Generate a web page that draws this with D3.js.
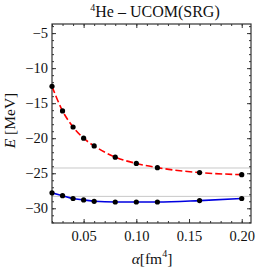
<!DOCTYPE html>
<html>
<head>
<meta charset="utf-8">
<script src="https://cdn.jsdelivr.net/npm/d3@7"></script>
<style>
body { margin: 0; background: #fff; }
text { font-family: "Liberation Serif", "DejaVu Serif", serif; }
</style>
</head>
<body>
<div id="chart"></div>
<script>
// data
var alphas = [0.02, 0.03, 0.04, 0.05, 0.06, 0.08, 0.10, 0.12, 0.16, 0.20];
var srgE = [-12.6, -16.1, -18.4, -20.0, -21.1, -22.7, -23.6, -24.2, -24.9, -25.2];
var ucomE = [-27.8, -28.2, -28.6, -28.8, -29.0, -29.1, -29.1, -29.1, -28.9, -28.6];
var refLines = [-24.25, -28.3];
var xTicks = [0.05, 0.10, 0.15, 0.20];
var yTicks = [-5, -10, -15, -20, -25, -30];

var svgWidth = 258;
var svgHeight = 268;
var margin = { top: 24, right: 7, bottom: 45, left: 52 };
var width = svgWidth - margin.left - margin.right;
var height = svgHeight - margin.top - margin.bottom;

var svg = d3.select("#chart")
    .append("svg")
    .attr("width", svgWidth)
    .attr("height", svgHeight);

var chartGroup = svg.append("g")
    .attr("transform", `translate(${margin.left}, ${margin.top})`);

var xScale = d3.scaleLinear().domain([0.02, 0.2088]).range([0, width]);
var yScale = d3.scaleLinear().domain([-32.1, -3.7]).range([height, 0]);

// gray reference lines
chartGroup.selectAll(".ref")
    .data(refLines)
    .enter()
    .append("line")
    .attr("x1", 0)
    .attr("x2", width)
    .attr("y1", d => yScale(d))
    .attr("y2", d => yScale(d))
    .attr("stroke", "#c8c8c8")
    .attr("stroke-width", 1);

// axes with inward ticks
function styleAxis(g) {
    g.select(".domain").remove();
    g.selectAll("line").attr("stroke", "#333");
    g.selectAll("text")
        .attr("font-family", "'Liberation Serif', serif")
        .attr("font-size", 14.5)
        .attr("fill", "#111");
}
var minorX = d3.range(0.02, 0.2085, 0.01);
var minorY = d3.range(-32, -3.5, 1);

chartGroup.append("g")
    .attr("transform", `translate(0, ${height})`)
    .call(d3.axisBottom(xScale).tickValues(minorX).tickSize(-2).tickFormat(""))
    .call(styleAxis);
chartGroup.append("g")
    .attr("transform", `translate(0, ${height})`)
    .call(d3.axisBottom(xScale).tickValues(xTicks).tickSize(-4).tickPadding(8).tickFormat(d3.format(".2f")))
    .call(styleAxis);
chartGroup.append("g")
    .call(d3.axisTop(xScale).tickValues(minorX).tickSize(-2).tickFormat(""))
    .call(styleAxis);
chartGroup.append("g")
    .call(d3.axisTop(xScale).tickValues(xTicks).tickSize(-4).tickFormat(""))
    .call(styleAxis);

chartGroup.append("g")
    .call(d3.axisLeft(yScale).tickValues(minorY).tickSize(-2).tickFormat(""))
    .call(styleAxis);
chartGroup.append("g")
    .call(d3.axisLeft(yScale).tickValues(yTicks).tickSize(-4).tickPadding(4).tickFormat(d => "\u2212" + Math.abs(d)))
    .call(styleAxis);
chartGroup.append("g")
    .attr("transform", `translate(${width}, 0)`)
    .call(d3.axisRight(yScale).tickValues(minorY).tickSize(-2).tickFormat(""))
    .call(styleAxis);
chartGroup.append("g")
    .attr("transform", `translate(${width}, 0)`)
    .call(d3.axisRight(yScale).tickValues(yTicks).tickSize(-4).tickFormat(""))
    .call(styleAxis);

// frame
chartGroup.append("rect")
    .attr("width", width)
    .attr("height", height)
    .attr("fill", "none")
    .attr("stroke", "#333")
    .attr("stroke-width", 1.2);

// curves
var line = d3.line()
    .x(d => xScale(d[0]))
    .y(d => yScale(d[1]))
    .curve(d3.curveMonotoneX);

chartGroup.append("path")
    .datum(alphas.map((a, i) => [a, srgE[i]]))
    .attr("d", line)
    .attr("fill", "none")
    .attr("stroke", "#ff0000")
    .attr("stroke-width", 1.6)
    .attr("stroke-dasharray", "7,3");

chartGroup.append("path")
    .datum(alphas.map((a, i) => [a, ucomE[i]]))
    .attr("d", line)
    .attr("fill", "none")
    .attr("stroke", "#0000e0")
    .attr("stroke-width", 1.6);

// points
var pts = alphas.map((a, i) => [a, srgE[i]]).concat(alphas.map((a, i) => [a, ucomE[i]]));
chartGroup.selectAll("circle")
    .data(pts)
    .enter()
    .append("circle")
    .attr("cx", d => xScale(d[0]))
    .attr("cy", d => yScale(d[1]))
    .attr("r", 2.6)
    .attr("fill", "#000");

// title
var title = svg.append("text")
    .attr("x", 155)
    .attr("y", 17)
    .attr("text-anchor", "middle")
    .attr("font-size", 16)
    .attr("fill", "#111");
title.append("tspan").attr("font-size", 10).attr("dy", -6).text("4");
title.append("tspan").attr("dy", 6).text("He \u2013 UCOM(SRG)");

// axis labels
var yLabel = svg.append("text")
    .attr("transform", `translate(15, ${margin.top + height / 2 - 3}) rotate(-90)`)
    .attr("text-anchor", "middle")
    .attr("font-size", 15.5)
    .attr("fill", "#111");
yLabel.append("tspan").attr("font-style", "italic").text("E");
yLabel.append("tspan").text(" [MeV]");

var xLabel = svg.append("text")
    .attr("x", 152)
    .attr("y", 264)
    .attr("text-anchor", "middle")
    .attr("font-size", 15.5)
    .attr("fill", "#111");
xLabel.append("tspan").attr("font-style", "italic").text("\u03b1");
xLabel.append("tspan").text("[fm");
xLabel.append("tspan").attr("font-size", 10).attr("dy", -7).text("4");
xLabel.append("tspan").attr("dy", 7).text("]");
</script>
</body>
</html>
